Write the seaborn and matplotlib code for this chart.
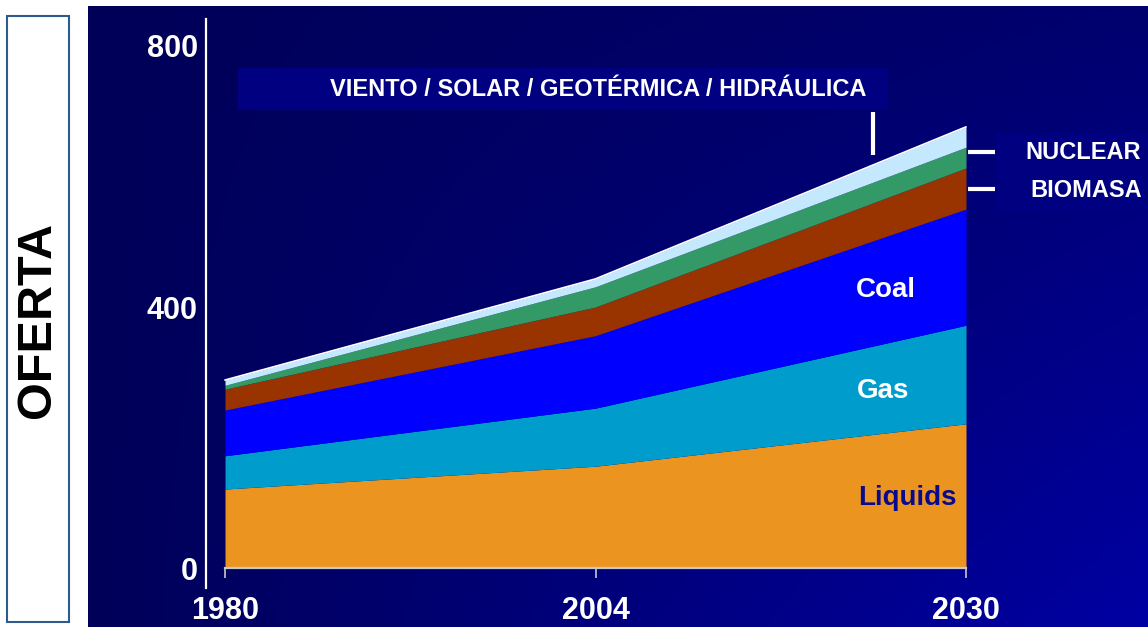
import numpy as np
import seaborn as sns
import matplotlib.pyplot as plt
from matplotlib.patches import Rectangle

# stacked energy supply (bottom to top)
years = ["1980", "2004", "2030"]
liquids = [121, 156, 221]
gas = [51, 89, 151]
coal = [70, 111, 178]
biomasa = [32, 44, 63]
nuclear = [6, 31, 32]
renovables = [8, 12, 31]
y_ticks = [0, 400, 800]

layer_colors = ["#EC9420", "#009CCC", "#0000FF", "#993300", "#339966", "#C4E9FF"]

sns.set_theme(style="white")
plt.rcParams['font.family'] = ['Liberation Sans', 'DejaVu Sans']
plt.rcParams['font.weight'] = 'bold'

W, H = 1148, 627
fig = plt.figure(figsize=(W / 100, H / 100), dpi=100)
fig.patch.set_facecolor("white")

# left white panel with framed title
fig.patches.append(Rectangle((7 / W, 5 / H), 62 / W, 606 / H, transform=fig.transFigure,
                             facecolor="white", edgecolor="#2F5A8C", lw=1.5))
fig.text(38 / W, 1 - 320 / H, "OFERTA", rotation=90, ha="center", va="center",
         fontsize=35, fontweight="bold", color="black")

# dark blue plot panel
ax = fig.add_axes([88 / W, 0, 1 - 88 / W, 621 / H])
xlim = (-0.3698, 2.4912)
ylim = (-90.4, 861.3)

# background gradient, brighter towards the bottom right
gx = np.linspace(0, 1, 300)
gy = np.linspace(0, 1, 200)
XX, YY = np.meshgrid(gx, gy)
blue = (88 + 75 * XX * (0.3 + 0.7 * YY)) / 255.0
red = np.zeros_like(blue)
grad = np.dstack([red, red, blue])
ax.imshow(grad, extent=[xlim[0], xlim[1], ylim[0], ylim[1]], aspect="auto",
          origin="upper", zorder=0)

x = np.arange(len(years))
series = [liquids, gas, coal, biomasa, nuclear, renovables]
ax.stackplot(x, *series, colors=layer_colors, lw=0, zorder=2)
total = np.sum(series, axis=0)
sns.lineplot(x=x, y=total, color="white", lw=1.3, ax=ax, zorder=3)

ax.set_xlim(*xlim)
ax.set_ylim(*ylim)

# axes styling
for s in ["top", "right"]:
    ax.spines[s].set_visible(False)
ax.spines["left"].set_position(("data", -0.0513))
ax.spines["left"].set_bounds(-30, 841)
ax.spines["left"].set_color("white")
ax.spines["left"].set_linewidth(1.6)
ax.spines["bottom"].set_position(("data", 0))
ax.spines["bottom"].set_bounds(0, 2)
ax.spines["bottom"].set_color("#C8C8C8")
ax.spines["bottom"].set_linewidth(1.6)

ax.set_xticks(x)
ax.set_xticklabels(years)
ax.set_yticks(y_ticks)
ax.set_yticklabels([str(v) for v in y_ticks])
ax.tick_params(axis="x", direction="out", length=7, width=1.2, color="#C8C8C8",
               pad=13, labelsize=22, labelcolor="white", bottom=True)
ax.tick_params(axis="y", length=0, pad=6, labelsize=22, labelcolor="white", left=True)
for lab in ax.get_xticklabels() + ax.get_yticklabels():
    lab.set_fontweight("bold")

# layer labels
ax.text(1.784, 426, "Coal", color="white", fontsize=20, fontweight="bold", ha="center", va="center", zorder=4)
ax.text(1.776, 271, "Gas", color="white", fontsize=20, fontweight="bold", ha="center", va="center", zorder=4)
ax.text(1.841, 107, "Liquids", color="#0A0A8C", fontsize=20, fontweight="bold", ha="center", va="center", zorder=4)

# callout boxes
box_col = "#000080"
ax.add_patch(Rectangle((0.035, 702), 1.754, 64, facecolor=box_col, edgecolor="none", zorder=4))
ax.text(1.008, 734, "VIENTO / SOLAR / GEOTÉRMICA / HIDRÁULICA", color="white", fontsize=17,
        fontweight="bold", ha="center", va="center", zorder=5)
ax.plot([1.749, 1.749], [633, 699], color="white", lw=3, zorder=5, solid_capstyle="butt")

ax.add_patch(Rectangle((2.081, 547), 0.42, 120, facecolor=box_col, edgecolor="none", zorder=4, clip_on=False))
ax.text(2.316, 637.5, "NUCLEAR", color="white", fontsize=17, fontweight="bold", ha="center", va="center", zorder=5)
ax.text(2.324, 579, "BIOMASA", color="white", fontsize=17, fontweight="bold", ha="center", va="center", zorder=5)
ax.plot([2.005, 2.078], [637.5, 637.5], color="white", lw=3, zorder=5, solid_capstyle="butt")
ax.plot([2.005, 2.078], [581, 581], color="white", lw=3, zorder=5, solid_capstyle="butt")

fig.savefig("out.png", dpi=100)
